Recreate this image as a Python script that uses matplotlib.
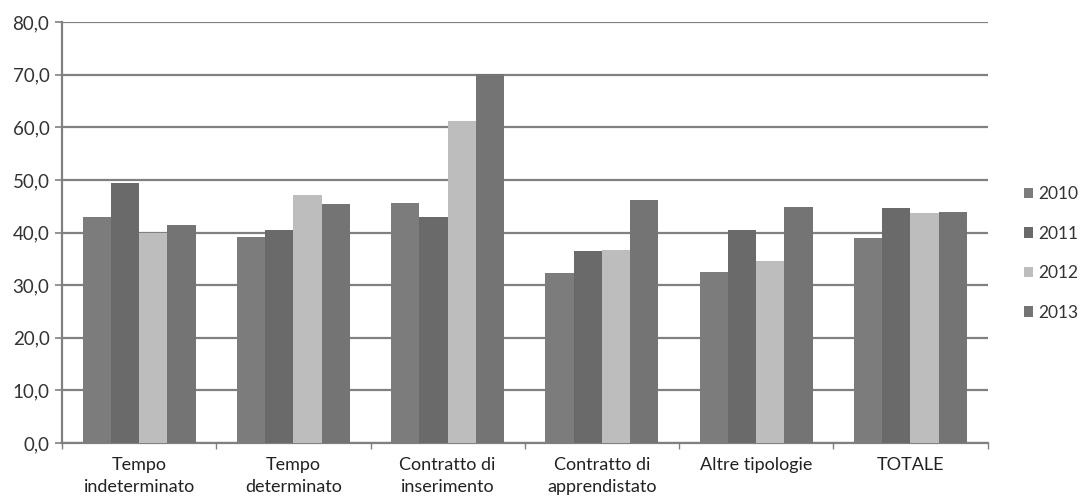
import matplotlib.pyplot as plt
import numpy as np
from matplotlib.ticker import FuncFormatter

categories = ["Tempo\nindeterminato", "Tempo\ndeterminato", "Contratto di\ninserimento",
              "Contratto di\napprendistato", "Altre tipologie", "TOTALE"]
years = ["2010", "2011", "2012", "2013"]
v2010 = [43.0, 39.2, 45.6, 32.3, 32.5, 39.0]
v2011 = [49.4, 40.5, 43.0, 36.5, 40.5, 44.7]
v2012 = [39.9, 47.1, 61.2, 36.6, 34.6, 43.7]
v2013 = [41.4, 45.4, 70.2, 46.2, 44.9, 43.9]
colors = ["#7c7c7c", "#6a6a6a", "#bdbdbd", "#747474"]

plt.rcParams['font.family'] = ['Lato', 'DejaVu Sans']

fig = plt.figure(figsize=(10.8, 5), dpi=100)
ax = fig.add_axes([0.0574, 0.114, 0.857, 0.842])

x = np.arange(len(categories))
w = 0.183
series = [v2010, v2011, v2012, v2013]
for i, vals in enumerate(series):
    ax.bar(x + (i - 1.5) * w, vals, width=w, color=colors[i], label=years[i], zorder=3)

ax.set_xlim(-0.5, len(categories) - 0.5)
ax.set_ylim(0, 80)
ax.set_yticks(np.arange(0, 81, 10))
ax.yaxis.set_major_formatter(FuncFormatter(lambda v, p: f"{v:.1f}".replace(".", ",")))
ax.grid(axis='y', color='#808080', linewidth=1.6, zorder=0)
ax.tick_params(axis='y', length=5, width=1.2, color='#808080', labelsize=13.5, labelcolor='#333333', pad=4)

# category labels below, small ticks between groups
ax.set_xticks(x)
ax.set_xticklabels(categories, fontsize=13, color='#222222', linespacing=1.45)
ax.tick_params(axis='x', length=0, pad=10)
ax.set_xticks(np.arange(-0.5, len(categories), 1), minor=True)
ax.tick_params(axis='x', which='minor', length=4, width=1, color='#808080')

for s in ['top', 'right']:
    ax.spines[s].set_visible(False)
for s in ['left', 'bottom']:
    ax.spines[s].set_color('#808080')
    ax.spines[s].set_linewidth(1.6)

leg = ax.legend(loc='center left', bbox_to_anchor=(1.039, 0.45), frameon=False, fontsize=12.5,
                handlelength=0.55, handleheight=0.55, handletextpad=0.3, labelspacing=1.35,
                borderpad=0, borderaxespad=0)
for t in leg.get_texts():
    t.set_color('#333333')

fig.savefig("out.png", dpi=100)
